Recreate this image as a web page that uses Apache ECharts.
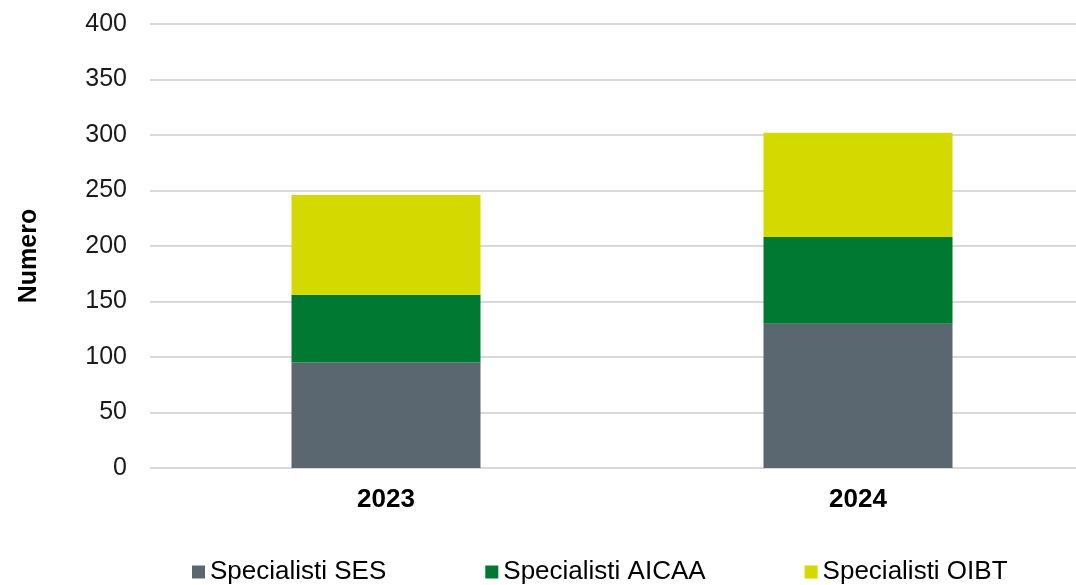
<!DOCTYPE html>
<html lang="it">
<head>
    <meta charset="UTF-8">
    <title>Numero specialisti</title>
    <script src="https://cdn.jsdelivr.net/npm/echarts@6/dist/echarts.min.js"></script>
    <style>
        html, body { margin: 0; padding: 0; background: #fff; }
        #main { width: 1076px; height: 585px; }
    </style>
</head>
<body>
<div id="main"></div>
<script type="text/javascript">
    // dati
    var anni = ['2023', '2024'];
    var specialistiSES = [95, 130];
    var specialistiAICAA = [61, 78];
    var specialistiOIBT = [90, 94];
    var yTicks = [0, 400, 50]; // min, max, passo

    var font = 'Liberation Sans, Arial, sans-serif';
    var myChart = echarts.init(document.getElementById('main'));

    function serie(nome, dati, colore) {
        return {
            name: nome,
            type: 'bar',
            stack: 'totale',
            barWidth: 189,
            data: dati,
            itemStyle: { color: colore },
            emphasis: { disabled: true }
        };
    }

    var option = {
        animation: false,
        textStyle: { fontFamily: font },
        // la griglia continua oltre il bordo destro, come nell'originale
        grid: { left: 150, width: 944, top: 24, bottom: 117, containLabel: false, outerBoundsMode: 'none' },
        legend: {
            bottom: 0,
            left: 192,
            padding: 0,
            itemWidth: 13,
            itemHeight: 13,
            itemGap: 99,
            icon: 'rect',
            textStyle: { fontSize: 26, color: '#000', fontFamily: font },
            data: ['Specialisti SES', 'Specialisti AICAA', 'Specialisti OIBT']
        },
        xAxis: {
            type: 'category',
            data: anni,
            axisLine: { show: false },
            axisTick: { show: false },
            axisLabel: { margin: 19, fontSize: 26, fontWeight: 'bold', color: '#000' }
        },
        yAxis: {
            type: 'value',
            min: yTicks[0],
            max: yTicks[1],
            interval: yTicks[2],
            name: 'Numero',
            nameLocation: 'middle',
            nameGap: 108,
            nameTextStyle: { fontSize: 25, fontWeight: 'bold', color: '#000', padding: [0, 20, 0, 0] },
            axisLabel: { margin: 23, fontSize: 25, color: '#1a1a1a' },
            splitLine: { lineStyle: { color: '#d9d9d9', width: 2 } }
        },
        series: [
            serie('Specialisti SES', specialistiSES, '#5b6770'),
            serie('Specialisti AICAA', specialistiAICAA, '#007932'),
            serie('Specialisti OIBT', specialistiOIBT, '#d4d900')
        ]
    };

    myChart.setOption(option);
</script>
</body>
</html>
